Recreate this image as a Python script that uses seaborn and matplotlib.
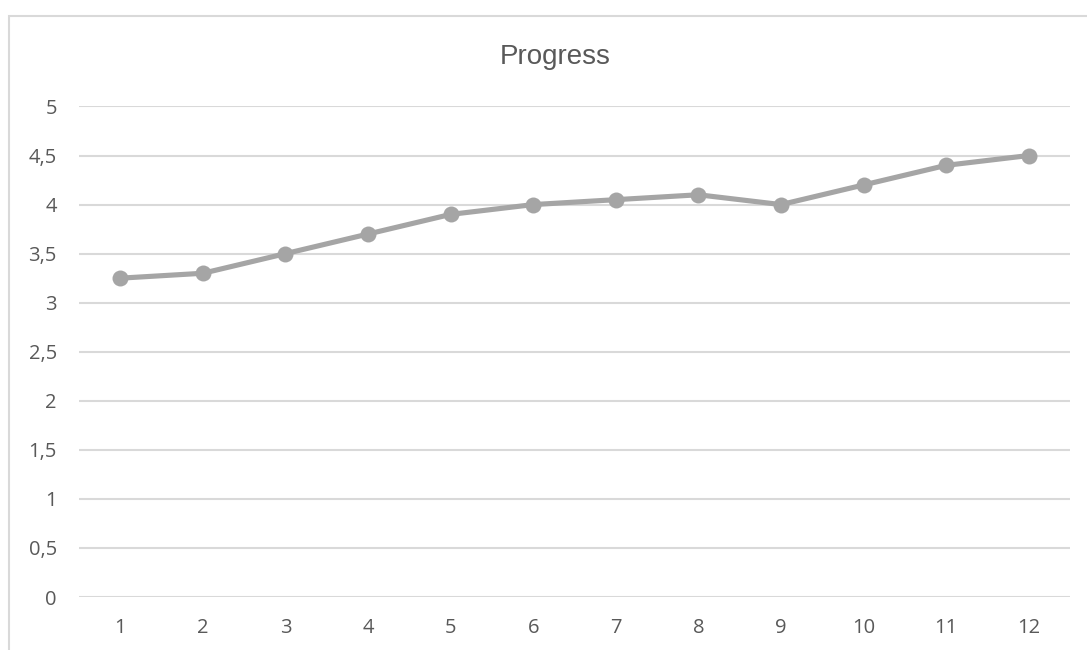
import matplotlib
matplotlib.use("Agg")
import matplotlib.pyplot as plt
import matplotlib.patches as mpatches
import seaborn as sns
import pandas as pd

# Monthly progress scores
periods = [1, 2, 3, 4, 5, 6, 7, 8, 9, 10, 11, 12]
scores = [3.25, 3.3, 3.5, 3.7, 3.9, 4.0, 4.05, 4.1, 4.0, 4.2, 4.4, 4.5]
y_ticks = [0, 0.5, 1, 1.5, 2, 2.5, 3, 3.5, 4, 4.5, 5]
y_tick_labels = ["0", "0,5", "1", "1,5", "2", "2,5", "3", "3,5", "4", "4,5", "5"]
title = "Progress"

df = pd.DataFrame({"period": periods, "score": scores})

sns.set_theme(style="white")
plt.rcParams["font.family"] = ["Open Sans", "DejaVu Sans"]

text_color = "#595959"
grid_color = "#D9D9D9"
line_color = "#A5A5A5"

fig = plt.figure(figsize=(10.87, 6.5), dpi=100)
ax = fig.add_axes([0.0727, 0.0815, 0.9117, 0.7547])

# Chart-area frame (only its top and left edges fall inside the canvas)
frame = mpatches.Rectangle((9 / 1087, -0.1), 1.2, 1.1 - 16.5 / 650,
                           transform=fig.transFigure, fill=False,
                           edgecolor=grid_color, linewidth=1.5, zorder=0)
fig.patches.append(frame)

# positions along a category axis: index 0..11
df["pos"] = range(len(df))
sns.lineplot(data=df, x="pos", y="score", ax=ax, color=line_color,
             linewidth=3.7, marker="o", markersize=11.5,
             markeredgewidth=0, markerfacecolor=line_color, clip_on=False,
             zorder=3)

ax.set_xlim(-0.5, len(periods) - 0.5)
ax.set_ylim(0, 5)
ax.set_yticks(y_ticks)
ax.set_yticklabels(y_tick_labels)
ax.set_xticks(range(len(periods)))
ax.set_xticklabels([str(p) for p in periods])
ax.yaxis.grid(True, color=grid_color, linewidth=1.5)
ax.xaxis.grid(False)
ax.set_axisbelow(True)
for s in ax.spines.values():
    s.set_visible(False)
ax.tick_params(axis="y", length=0, pad=16, labelsize=14.5, labelcolor=text_color)
ax.tick_params(axis="x", length=0, pad=15, labelsize=14.5, labelcolor=text_color)
ax.set_xlabel("")
ax.set_ylabel("")

fig.text(555 / 1087, 1 - 57 / 650, title, ha="center", va="center",
         fontsize=20, color=text_color,
         family=["Liberation Sans", "DejaVu Sans"])

fig.savefig("out.png", dpi=100, facecolor="white")
